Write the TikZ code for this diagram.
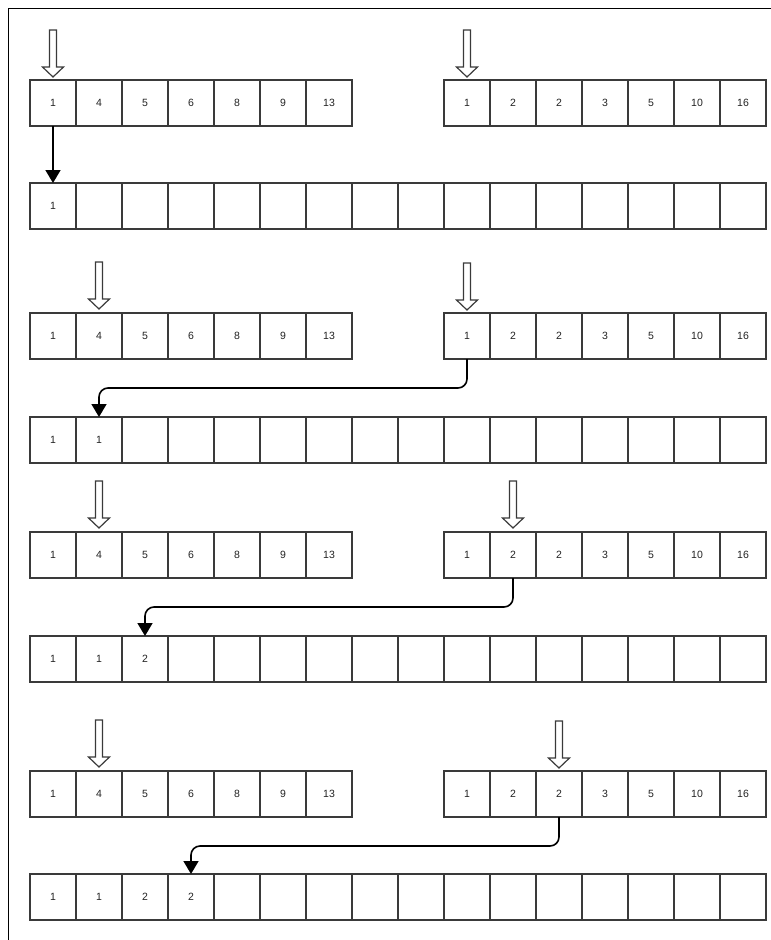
\documentclass[tikz,border=0pt]{standalone}
\usepackage{fontspec}
\setmainfont{Liberation Sans}
\usetikzlibrary{arrows.meta,calc}
\definecolor{cellc}{HTML}{3A3A3A}
\definecolor{txt}{HTML}{222222}
\tikzset{
  cell/.style={draw=cellc, line width=1.8pt, minimum width=46pt, minimum height=46pt,
    inner sep=0pt, outer sep=0pt, font=\fontsize{10.5}{12}\selectfont, text=txt},
  hollowarrow/.style={draw=cellc, fill=white, line width=1.2pt, line join=miter},
  conn/.style={draw=black, line width=1.6pt, rounded corners=9pt,
    -{Triangle[width=15pt,length=13pt]}},
  pics/downarrow/.style={code={
    \draw[hollowarrow] (0,0) -- (-10.5,-10) -- (-3.5,-10) -- (-3.5,-47) -- (3.5,-47)
      -- (3.5,-10) -- (10.5,-10) -- cycle;}}
}
\begin{document}
\begin{tikzpicture}[x=1pt,y=-1pt]
\useasboundingbox (0,0) rectangle (771,940);
\draw[black, line width=1pt] (8,940) -- (8,8) -- (771,8);
% arrays
\foreach \s/\ya/\ym in {1/103/206, 2/336/440, 3/555/659, 4/794/897}{
  \foreach \v [count=\i] in {1,4,5,6,8,9,13}
    \node[cell] (s\s A\i) at ({30+46*(\i-0.5)},\ya) {\v};
  \foreach \v [count=\i] in {1,2,2,3,5,10,16}
    \node[cell] (s\s B\i) at ({444+46*(\i-0.5)},\ya) {\v};
}
% merged rows
\foreach \v [count=\i] in {1,,,,,,,,,,,,,,,}
  \node[cell] (s1M\i) at ({30+46*(\i-0.5)},206) {\v};
\foreach \v [count=\i] in {1,1,,,,,,,,,,,,,,}
  \node[cell] (s2M\i) at ({30+46*(\i-0.5)},440) {\v};
\foreach \v [count=\i] in {1,1,2,,,,,,,,,,,,,}
  \node[cell] (s3M\i) at ({30+46*(\i-0.5)},659) {\v};
\foreach \v [count=\i] in {1,1,2,2,,,,,,,,,,,,}
  \node[cell] (s4M\i) at ({30+46*(\i-0.5)},897) {\v};
% hollow pointers
\pic at ([yshift=3pt]s1A1.north) {downarrow};
\pic at ([yshift=3pt]s1B1.north) {downarrow};
\pic at ([yshift=4pt]s2A2.north) {downarrow};
\pic at ([yshift=3pt]s2B1.north) {downarrow};
\pic at ([yshift=4pt]s3A2.north) {downarrow};
\pic at ([yshift=4pt]s3B2.north) {downarrow};
\pic at ([yshift=4pt]s4A2.north) {downarrow};
\pic at ([yshift=3pt]s4B3.north) {downarrow};
% connectors
\coordinate (h2) at (0,388);
\coordinate (h3) at (0,607);
\coordinate (h4) at (0,846);
\draw[conn] (s1A1.south) -- (s1M1.north);
\draw[conn] (s2B1.south) -- (s2B1.south |- h2) -| (s2M2.north);
\draw[conn] (s3B2.south) -- (s3B2.south |- h3) -| (s3M3.north);
\draw[conn] (s4B3.south) -- (s4B3.south |- h4) -| (s4M4.north);
\end{tikzpicture}
\end{document}
